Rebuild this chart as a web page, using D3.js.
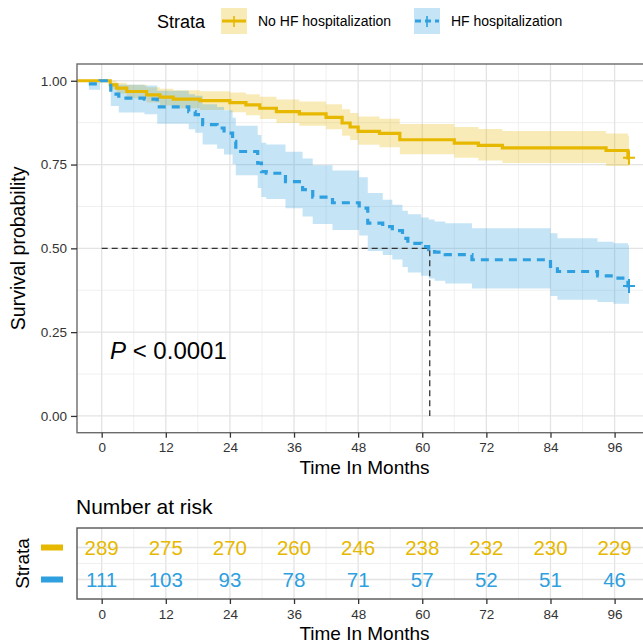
<!DOCTYPE html>
<html>
<head>
<meta charset="utf-8">
<script src="https://cdn.jsdelivr.net/npm/d3@7"></script>
<style>
  body { margin: 0; background: #fff; }
  svg { display: block; font-family: "Liberation Sans", Arial, sans-serif; }
</style>
</head>
<body>
<div id="app"></div>
<script>
// ---- data ----
const strata = ["No HF hospitalization", "HF hospitalization"];
const strataColors = ["#E7B800", "#2E9FDF"];

const timeTicks = [0, 12, 24, 36, 48, 60, 72, 84, 96];
const timeMinor = [6, 18, 30, 42, 54, 66, 78, 90];
const survTicks = [0, 0.25, 0.5, 0.75, 1];
const survMinor = [0.125, 0.375, 0.625, 0.875];

// No HF hospitalization: step curve + confidence band
const noHfTime  = [-4.6, 1.6, 2.8, 4.7, 8.4, 10.9, 13.4, 18.4, 24, 27, 29.6, 32.7, 37, 42, 45, 46.5, 48, 52, 55.8, 66, 70.5, 75, 94.4, 98.5];
const noHfSurv  = [1.0, 0.988, 0.978, 0.968, 0.958, 0.951, 0.945, 0.941, 0.935, 0.928, 0.918, 0.908, 0.901, 0.891, 0.874, 0.862, 0.849, 0.843, 0.824, 0.814, 0.807, 0.800, 0.792, 0.770];
const noHfLower = [1.0, 0.975, 0.962, 0.948, 0.935, 0.926, 0.918, 0.913, 0.906, 0.897, 0.886, 0.874, 0.866, 0.855, 0.836, 0.823, 0.809, 0.802, 0.781, 0.770, 0.762, 0.755, 0.746, 0.746];
const noHfUpper = [1.0, 1.0, 0.994, 0.988, 0.981, 0.976, 0.972, 0.969, 0.965, 0.960, 0.952, 0.944, 0.938, 0.930, 0.915, 0.904, 0.893, 0.887, 0.871, 0.862, 0.856, 0.850, 0.843, 0.836];

// HF hospitalization
const hfTime  = [-2.4, -0.3, 1.7, 3.2, 8, 10.4, 16.3, 17.5, 18.9, 21.6, 22.9, 24.5, 25.1, 29.2, 29.9, 30.8, 34.4, 37.6, 39.5, 43.2, 48.2, 49.8, 52.6, 54.4, 56.3, 57.3, 59.8, 61.2, 62.3, 64.3, 69.3, 84, 85.3, 92.8, 95.8, 98.5];
const hfSurv  = [0.991, 1.0, 0.960, 0.948, 0.945, 0.922, 0.908, 0.899, 0.869, 0.859, 0.844, 0.819, 0.789, 0.754, 0.729, 0.724, 0.699, 0.675, 0.653, 0.636, 0.620, 0.575, 0.565, 0.553, 0.530, 0.515, 0.505, 0.496, 0.489, 0.481, 0.466, 0.446, 0.431, 0.418, 0.411, 0.388];
const hfLower = [0.973, 1.0, 0.925, 0.905, 0.900, 0.872, 0.855, 0.845, 0.810, 0.797, 0.780, 0.752, 0.718, 0.680, 0.653, 0.647, 0.620, 0.595, 0.573, 0.555, 0.538, 0.492, 0.480, 0.467, 0.444, 0.428, 0.418, 0.410, 0.403, 0.395, 0.380, 0.358, 0.347, 0.340, 0.335, 0.335];
const hfUpper = [1.0, 1.0, 0.993, 0.988, 0.986, 0.970, 0.960, 0.955, 0.930, 0.922, 0.912, 0.890, 0.866, 0.838, 0.815, 0.810, 0.788, 0.768, 0.748, 0.732, 0.712, 0.665, 0.645, 0.630, 0.612, 0.602, 0.592, 0.586, 0.580, 0.575, 0.560, 0.545, 0.530, 0.520, 0.515, 0.510];

const endTime = 98.7;
const medianTime = 61.4;
const medianSurv = 0.5;

const riskNoHf = [289, 275, 270, 260, 246, 238, 232, 230, 229];
const riskHf   = [111, 103, 93, 78, 71, 57, 52, 51, 46];

// ---- layout ----
const W = 643, H = 644;
const panel = { left: 77, right: 652, top: 64, bottom: 432.7 };
const risk = { top: 528, bottom: 599 };

const svg = d3.select("#app").append("svg")
  .attr("width", W)
  .attr("height", H);

svg.append("rect").attr("width", W).attr("height", H).attr("fill", "#fff");

const x = d3.scaleLinear().domain([-4.62, 103.0]).range([panel.left, panel.right]);
const y = d3.scaleLinear().domain([-0.05, 1.05]).range([panel.bottom, panel.top]);

svg.append("defs").append("clipPath").attr("id", "clip")
  .append("rect")
  .attr("x", panel.left).attr("y", panel.top)
  .attr("width", panel.right - panel.left).attr("height", panel.bottom - panel.top);

// grid
const grid = svg.append("g");
grid.selectAll(".vmin").data(timeMinor).join("line")
  .attr("x1", d => x(d)).attr("x2", d => x(d))
  .attr("y1", panel.top).attr("y2", panel.bottom)
  .attr("stroke", "#ececec").attr("stroke-width", 0.8);
grid.selectAll(".hmin").data(survMinor).join("line")
  .attr("y1", d => y(d)).attr("y2", d => y(d))
  .attr("x1", panel.left).attr("x2", panel.right)
  .attr("stroke", "#ececec").attr("stroke-width", 0.8);
grid.selectAll(".vmaj").data(timeTicks).join("line")
  .attr("x1", d => x(d)).attr("x2", d => x(d))
  .attr("y1", panel.top).attr("y2", panel.bottom)
  .attr("stroke", "#e3e3e3").attr("stroke-width", 1.3);
grid.selectAll(".hmaj").data(survTicks).join("line")
  .attr("y1", d => y(d)).attr("y2", d => y(d))
  .attr("x1", panel.left).attr("x2", panel.right)
  .attr("stroke", "#e3e3e3").attr("stroke-width", 1.3);

// curves
const curves = [
  { time: noHfTime, surv: noHfSurv, lo: noHfLower, hi: noHfUpper, color: strataColors[0], dash: null },
  { time: hfTime, surv: hfSurv, lo: hfLower, hi: hfUpper, color: strataColors[1], dash: "8,6" }
];
curves.forEach(c => {
  const n = c.time.length;
  c.pts = c.time.map((t, i) => ({ t: t, s: c.surv[i], lo: c.lo[i], hi: c.hi[i] }));
  c.pts.push({ t: endTime, s: c.surv[n - 1], lo: c.lo[n - 1], hi: c.hi[n - 1] });
});

const plot = svg.append("g").attr("clip-path", "url(#clip)");

const area = d3.area()
  .x(d => x(d.t))
  .y0(d => y(d.lo))
  .y1(d => y(d.hi))
  .curve(d3.curveStepAfter);

const line = d3.line()
  .x(d => x(d.t))
  .y(d => y(d.s))
  .curve(d3.curveStepAfter);

curves.forEach(c => {
  plot.append("path")
    .datum(c.pts)
    .attr("d", area)
    .attr("fill", c.color)
    .attr("fill-opacity", 0.28);
});

// median lines
plot.append("path")
  .attr("d", `M${x(0)},${y(medianSurv)}H${x(medianTime)}V${y(0)}`)
  .attr("fill", "none")
  .attr("stroke", "#333")
  .attr("stroke-width", 1.3)
  .attr("stroke-dasharray", "6,4");

curves.forEach(c => {
  plot.append("path")
    .datum(c.pts)
    .attr("d", line)
    .attr("fill", "none")
    .attr("stroke", c.color)
    .attr("stroke-width", 3.2)
    .attr("stroke-dasharray", c.dash);
  // censor mark at the end
  const last = c.pts[c.pts.length - 1];
  const cx = x(last.t), cy = y(last.s);
  plot.append("path")
    .attr("d", `M${cx - 6},${cy}H${cx + 6}M${cx},${cy - 7}V${cy + 7}`)
    .attr("stroke", c.color)
    .attr("stroke-width", 2);
});

// panel border
svg.append("rect")
  .attr("x", panel.left).attr("y", panel.top)
  .attr("width", panel.right - panel.left).attr("height", panel.bottom - panel.top)
  .attr("fill", "none").attr("stroke", "#6b6b6b").attr("stroke-width", 1.4);

// axes
const yAxis = svg.append("g")
  .attr("transform", `translate(${panel.left},0)`)
  .call(d3.axisLeft(y).tickValues(survTicks).tickFormat(d3.format(".2f")).tickSize(6).tickPadding(4));
const xAxis = svg.append("g")
  .attr("transform", `translate(0,${panel.bottom})`)
  .call(d3.axisBottom(x).tickValues(timeTicks).tickSize(5).tickPadding(5));
[yAxis, xAxis].forEach(g => {
  g.select(".domain").remove();
  g.selectAll(".tick line").attr("stroke", "#333").attr("stroke-width", 1.3);
  g.selectAll(".tick text").attr("fill", "#333").style("font-size", "13.5px").style("font-family", "inherit");
});

svg.append("text")
  .attr("transform", `translate(25,${(panel.top + panel.bottom) / 2}) rotate(-90)`)
  .attr("text-anchor", "middle")
  .style("font-size", "19.5px")
  .text("Survival probability");

svg.append("text")
  .attr("x", (panel.left + panel.right) / 2)
  .attr("y", 474)
  .attr("text-anchor", "middle")
  .style("font-size", "19px")
  .text("Time In Months");

// p-value
const pText = svg.append("text")
  .attr("x", 110)
  .attr("y", 359)
  .style("font-size", "24px");
pText.append("tspan").style("font-style", "italic").text("P");
pText.append("tspan").text(" < 0.0001");

// legend
const legend = svg.append("g");
legend.append("text")
  .attr("x", 157).attr("y", 28)
  .style("font-size", "18px")
  .text("Strata");
const keyX = [221, 414], labelX = [258, 451];
strata.forEach((s, i) => {
  const k = legend.append("g").attr("transform", `translate(${keyX[i]},8)`);
  k.append("rect").attr("width", 26).attr("height", 26)
    .attr("fill", strataColors[i]).attr("fill-opacity", 0.28);
  k.append("line").attr("x1", 1).attr("x2", 25).attr("y1", 13).attr("y2", 13)
    .attr("stroke", strataColors[i]).attr("stroke-width", 3)
    .attr("stroke-dasharray", i === 1 ? "6,4" : null);
  k.append("line").attr("x1", 13).attr("x2", 13).attr("y1", 8).attr("y2", 19)
    .attr("stroke", strataColors[i]).attr("stroke-width", 1.6);
  legend.append("text")
    .attr("x", labelX[i]).attr("y", 26)
    .style("font-size", "14px")
    .text(s);
});

// ---- number at risk table ----
svg.append("text")
  .attr("x", 76).attr("y", 514)
  .style("font-size", "21px")
  .text("Number at risk");

const yr = d3.scalePoint().domain(strata).range([risk.top + 19.5, risk.bottom - 19.5]);
const rg = svg.append("g");
rg.selectAll(".vmin").data(timeMinor).join("line")
  .attr("x1", d => x(d)).attr("x2", d => x(d))
  .attr("y1", risk.top).attr("y2", risk.bottom)
  .attr("stroke", "#ececec").attr("stroke-width", 0.8);
rg.selectAll(".vmaj").data(timeTicks).join("line")
  .attr("x1", d => x(d)).attr("x2", d => x(d))
  .attr("y1", risk.top).attr("y2", risk.bottom)
  .attr("stroke", "#e3e3e3").attr("stroke-width", 1.3);
rg.append("line")
  .attr("x1", panel.left).attr("x2", panel.right)
  .attr("y1", (risk.top + risk.bottom) / 2).attr("y2", (risk.top + risk.bottom) / 2)
  .attr("stroke", "#ececec").attr("stroke-width", 0.8);
rg.selectAll(".hmaj").data(strata).join("line")
  .attr("x1", panel.left).attr("x2", panel.right)
  .attr("y1", d => yr(d)).attr("y2", d => yr(d))
  .attr("stroke", "#e3e3e3").attr("stroke-width", 1.3);

[riskNoHf, riskHf].forEach((vals, i) => {
  rg.selectAll(null).data(vals).join("text")
    .attr("x", (d, j) => x(timeTicks[j]))
    .attr("y", yr(strata[i]))
    .attr("dy", "0.36em")
    .attr("text-anchor", "middle")
    .attr("fill", strataColors[i])
    .style("font-size", "20.5px")
    .text(d => d);
  svg.append("rect")
    .attr("x", 41).attr("y", yr(strata[i]) - 3)
    .attr("width", 22).attr("height", 6)
    .attr("fill", strataColors[i]);
});

svg.append("rect")
  .attr("x", panel.left).attr("y", risk.top)
  .attr("width", panel.right - panel.left).attr("height", risk.bottom - risk.top)
  .attr("fill", "none").attr("stroke", "#555").attr("stroke-width", 1.4);

const rAxis = svg.append("g")
  .attr("transform", `translate(0,${risk.bottom})`)
  .call(d3.axisBottom(x).tickValues(timeTicks).tickSize(5).tickPadding(5));
rAxis.select(".domain").remove();
rAxis.selectAll(".tick line").attr("stroke", "#333").attr("stroke-width", 1.3);
rAxis.selectAll(".tick text").attr("fill", "#333").style("font-size", "13.5px").style("font-family", "inherit");

svg.append("text")
  .attr("x", (panel.left + panel.right) / 2)
  .attr("y", 640)
  .attr("text-anchor", "middle")
  .style("font-size", "19px")
  .text("Time In Months");

svg.append("text")
  .attr("transform", `translate(29,${(risk.top + risk.bottom) / 2}) rotate(-90)`)
  .attr("text-anchor", "middle")
  .style("font-size", "19px")
  .text("Strata");
</script>
</body>
</html>
